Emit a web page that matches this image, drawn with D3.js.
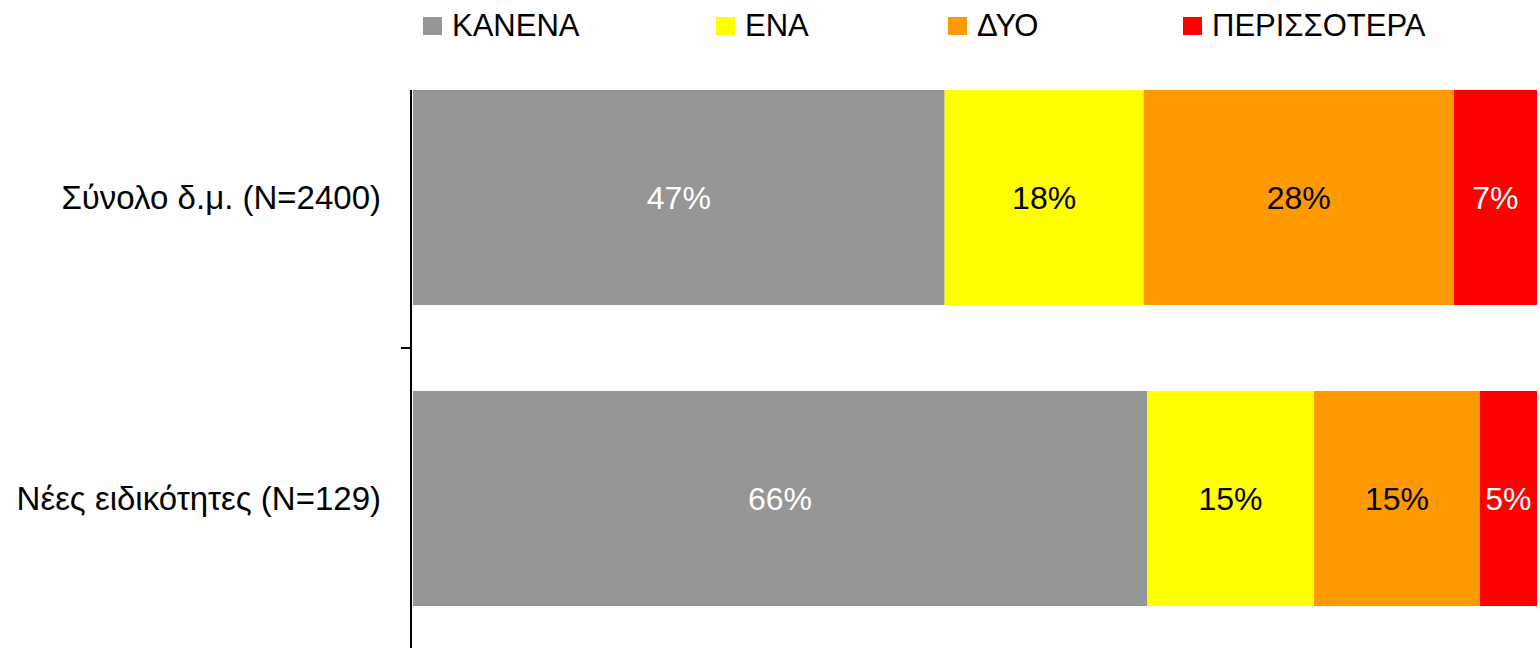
<!DOCTYPE html>
<html>
<head>
<meta charset="utf-8">
<script src="https://cdn.jsdelivr.net/npm/d3@7"></script>
<style>
  body { margin: 0; background: #fff; }
  text { font-family: "Liberation Sans", Arial, sans-serif; }
</style>
</head>
<body>
<svg id="chart" width="1540" height="648"></svg>
<script>
var categories = ["Σύνολο δ.μ. (N=2400)", "Νέες ειδικότητες (N=129)"];
var keys = ["ΚΑΝΕΝΑ", "ΕΝΑ", "ΔΥΟ", "ΠΕΡΙΣΣΟΤΕΡΑ"];
var kanena = [47.3, 65.5];
var ena = [17.7, 14.9];
var dyo = [27.6, 14.8];
var perissotera = [7.4, 5.1];
var colors = ["#969696", "#FFFF00", "#FF9900", "#FF0000"];
var labelColors = ["#ffffff", "#000000", "#000000", "#ffffff"];

var rows = categories.map(function(c, i) {
  return { cat: c, "ΚΑΝΕΝΑ": kanena[i], "ΕΝΑ": ena[i], "ΔΥΟ": dyo[i], "ΠΕΡΙΣΣΟΤΕΡΑ": perissotera[i] };
});

var svg = d3.select("#chart");
var left = 413, right = 1537;
var pad = 86 / 301;

var x = d3.scaleLinear().domain([0, 1]).range([left, right]);
var y = d3.scaleBand().domain(categories).range([47, 649])
    .paddingInner(pad).paddingOuter(pad / 2);
var z = d3.scaleOrdinal().domain(keys).range(colors);

// 100% stacked bars
var layers = d3.stack().keys(keys).offset(d3.stackOffsetExpand)(rows);

var layer = svg.selectAll(".layer")
  .data(layers)
  .enter().append("g")
    .attr("class", "layer")
    .attr("fill", function(d) { return z(d.key); });

layer.selectAll("rect")
  .data(function(d) { return d; })
  .enter().append("rect")
    .attr("x", function(d) { return x(d[0]); })
    .attr("y", function(d) { return y(d.data.cat); })
    .attr("width", function(d) { return x(d[1]) - x(d[0]); })
    .attr("height", y.bandwidth());

layer.each(function(l, li) {
  d3.select(this).selectAll("text")
    .data(l)
    .enter().append("text")
      .attr("x", function(d) { return (x(d[0]) + x(d[1])) / 2; })
      .attr("y", function(d) { return y(d.data.cat) + y.bandwidth() / 2; })
      .attr("dy", "0.35em")
      .attr("text-anchor", "middle")
      .attr("font-size", 32)
      .attr("fill", labelColors[li])
      .text(function(d) { return Math.round(d.data[l.key]) + "%"; });
});

// category axis
var axis = svg.append("g");
axis.append("line")
  .attr("x1", 411).attr("x2", 411)
  .attr("y1", y(categories[0])).attr("y2", 648)
  .attr("stroke", "#000").attr("stroke-width", 2);
axis.append("line")
  .attr("x1", 401).attr("x2", 411)
  .attr("y1", y(categories[1]) - y.step() * pad / 2)
  .attr("y2", y(categories[1]) - y.step() * pad / 2)
  .attr("stroke", "#000").attr("stroke-width", 2);
axis.selectAll(".cat")
  .data(categories)
  .enter().append("text")
    .attr("class", "cat")
    .attr("x", 381)
    .attr("y", function(d) { return y(d) + y.bandwidth() / 2; })
    .attr("dy", "0.35em")
    .attr("text-anchor", "end")
    .attr("font-size", 33)
    .attr("fill", "#000")
    .text(function(d) { return d; });

// legend
var legendX = [423, 716, 948, 1183];
var legend = svg.selectAll(".legend")
  .data(keys)
  .enter().append("g")
    .attr("class", "legend")
    .attr("transform", function(d, i) { return "translate(" + legendX[i] + ",0)"; });
legend.append("rect")
  .attr("y", 17).attr("width", 19).attr("height", 18)
  .attr("fill", function(d) { return z(d); });
legend.append("text")
  .attr("x", 29).attr("y", 36)
  .attr("font-size", 31)
  .attr("fill", "#000")
  .text(function(d) { return d; });
</script>
</body>
</html>
